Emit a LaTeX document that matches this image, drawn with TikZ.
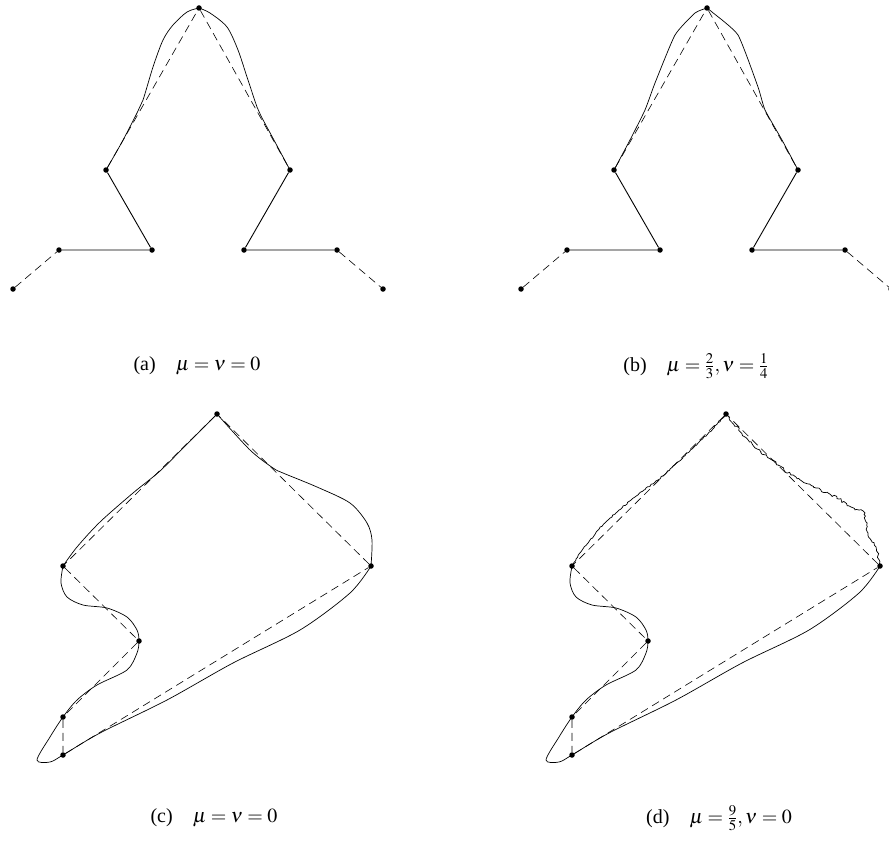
\documentclass[tikz,border=0pt]{standalone}
\usepackage{mathptmx}
\usepackage{fontspec}
\setmainfont{Liberation Serif}
\usetikzlibrary{positioning, decorations.pathmorphing}

\tikzset{
  dot/.style={circle, fill=black, inner sep=0pt, minimum size=5.5pt},
  guide/.style={line width=0.6pt, dash pattern=on 8pt off 5pt},
  arm/.style={line width=0.9pt},
  wave/.style={line width=0.7pt},
  rough/.style={wave, decorate, decoration={random steps, segment length=2pt, amplitude=#1}},
  caption/.style={font=\fontsize{20}{24}\selectfont}
}

\begin{document}
\begin{tikzpicture}[x=1pt, y=-1pt]
  \useasboundingbox (0,0) rectangle (889,843);
  \pgfmathsetseed{7}

  % (a) and (b): same frame, shifted
  \foreach \p/\dx in {a/0, b/508}{
    \begin{scope}[xshift=\dx]
      \foreach \i/\x/\y in {0/13/289, 1/59/250, 2/152/250, 3/106/170, 4/199/8,
                            5/290/170, 6/244/250, 7/337/250, 8/383/289}
        \node[dot] (\p\i) at (\x,\y) {};
    \end{scope}
    \draw[guide] (\p0) -- (\p1) (\p3) -- (\p4) -- (\p5) (\p7) -- (\p8);
    \draw[arm] (\p1) -- (\p2) -- (\p3) (\p5) -- (\p6) -- (\p7);
  }

  \draw[wave] plot[smooth] coordinates {(a3.center) (122,142) (137,113) (143,100)
    (153,67) (163,40) (173,25) (187,12) (a4.center)};
  \draw[wave] plot[smooth] coordinates {(a4.center) (210,13) (227,27) (238,50)
    (247,77) (257,107) (261,116) (275,142) (a5.center)};

  \draw[wave] plot[smooth, tension=0.3] coordinates {(b3.center) (630,140) (645,110)
    (655,83) (675,35) (695,13) (b4.center)};
  \draw[wave] plot[smooth, tension=0.3] coordinates {(b4.center) (712,12) (738,35)
    (758,87) (765,110) (782,140) (b5.center)};

  % (c) and (d): same frame, shifted
  \foreach \p/\dx in {c/0, d/509}{
    \begin{scope}[xshift=\dx]
      \foreach \i/\x/\y in {0/217/414, 1/63/566, 2/139/641, 3/63/717, 4/63/755, 5/371/566}
        \node[dot] (\p\i) at (\x,\y) {};
      \draw[guide] (\p0) -- (\p1) -- (\p2) -- (\p3) -- (\p4) -- (\p5) -- (\p0);
      \draw[wave] plot[smooth] coordinates {(\p1.center) (61,583) (67,597) (83,605)
        (107,608) (127,617) (137,630) (\p2.center) (137,653) (127,670) (97,685)
        (77,700) (\p3.center) (50,737) (37,760) (50,762) (\p4.center) (100,733)
        (167,700) (233,663) (300,630) (350,593) (\p5.center)};
    \end{scope}
  }

  \draw[wave] plot[smooth] coordinates {(c5.center) (372,540) (367,523) (350,503)
    (317,487) (283,473) (273,468) (250,450) (c0.center)};
  \draw[wave] plot[smooth] coordinates {(c0.center) (188,443) (160,471) (133,493)
    (100,522) (77,547) (c1.center)};

  \begin{scope}[xshift=509]
    \draw[rough=1.3pt] (d5.center) -- (369,553) -- (367,547) -- (362,540) -- (359,533)
      -- (357,522) -- (356,513) -- (350,510) -- (342,507) -- (330,499) -- (319,493)
      -- (307,488) -- (296,483) -- (282,475) -- (269,465) -- (252,452) -- (236,437)
      -- (d0.center);
    \draw[rough=0.6pt] (d0.center) -- (203,430) -- (189,443) -- (169,462) -- (149,480)
      -- (135,490) -- (122,500) -- (110,510) -- (99,520) -- (88,531) -- (79,543)
      -- (70,554) -- (d1.center);
  \end{scope}

  \node[caption] (capA) at (197,366) {(a)\quad $\mu=\nu=0$};
  \node[caption] (capB) at (696,366) {(b)\quad $\mu=\frac{2}{3},\nu=\frac{1}{4}$};
  \node[caption] (capC) at (214,818) {(c)\quad $\mu=\nu=0$};
  \node[caption] (capD) at (719,818) {(d)\quad $\mu=\frac{9}{5},\nu=0$};
\end{tikzpicture}
\end{document}
